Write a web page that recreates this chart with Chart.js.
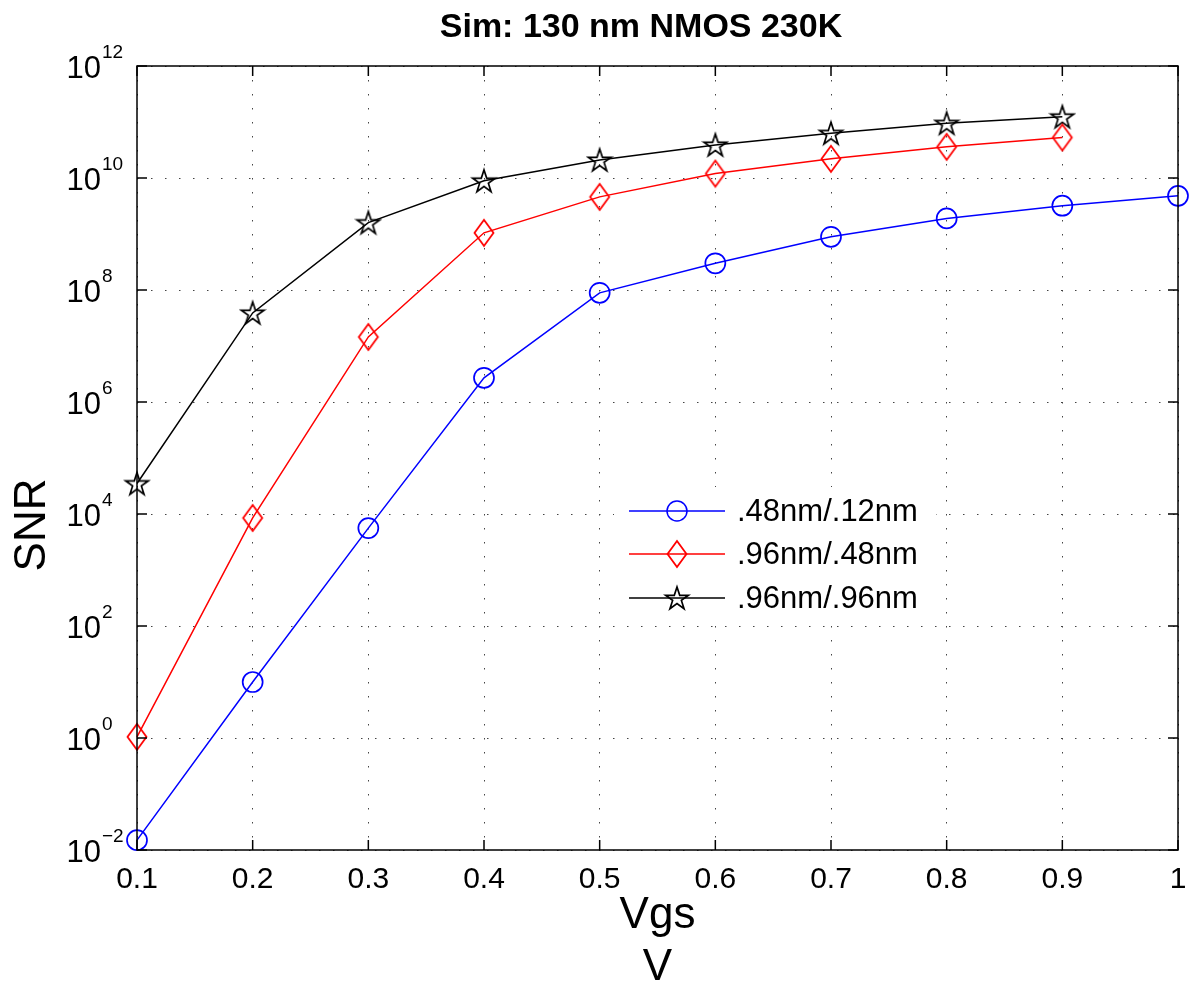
<!DOCTYPE html>
<html>
<head>
  <title>Sim: 130 nm NMOS 230K</title>
  <script src="https://cdn.jsdelivr.net/npm/chart.js"></script>
  <style>
    body { margin: 0; background: #fff; }
    #wrap { width: 1199px; height: 994px; }
  </style>
</head>
<body>
  <div id="wrap"><canvas id="snrChart"></canvas></div>

  <script>
    // values (SNR vs Vgs, 130 nm NMOS at 230K)
    const vgs = [0.1, 0.2, 0.3, 0.4, 0.5, 0.6, 0.7, 0.8, 0.9, 1.0];
    const snr48_12 = [0.015, 10, 5.6e3, 2.7e6, 8.9e7, 3.0e8, 8.9e8, 1.9e9, 3.2e9, 4.8e9];
    const snr96_48 = [1.05, 8.5e3, 1.45e7, 1.05e9, 4.6e9, 1.2e10, 2.2e10, 3.6e10, 5.3e10];
    const snr96_96 = [3.5e4, 3.9e7, 1.6e9, 8.9e9, 2.1e10, 3.9e10, 6.3e10, 9.5e10, 1.24e11];
    const seriesNames = ['.48nm/.12nm', '.96nm/.48nm', '.96nm/.96nm'];
    const xTicks = [0.1, 0.2, 0.3, 0.4, 0.5, 0.6, 0.7, 0.8, 0.9, 1];
    const yTicks = [1e-2, 1e0, 1e2, 1e4, 1e6, 1e8, 1e10, 1e12];

    const FONT = '"Liberation Sans", Arial, Helvetica, sans-serif';
    Chart.defaults.color = '#000';
    Chart.defaults.font.family = FONT;

    // hollow marker images like the matlab ones
    function diamondMarker(color) {
      const c = document.createElement('canvas');
      c.width = 24; c.height = 30;
      const g = c.getContext('2d');
      g.strokeStyle = color; g.lineWidth = 1.8;
      g.beginPath();
      g.moveTo(12, 2); g.lineTo(21.5, 15); g.lineTo(12, 28); g.lineTo(2.5, 15);
      g.closePath(); g.stroke();
      return c;
    }
    function starMarker(color) {
      const c = document.createElement('canvas');
      c.width = 28; c.height = 28;
      const g = c.getContext('2d');
      g.strokeStyle = color; g.lineWidth = 1.7;
      g.beginPath();
      for (let i = 0; i < 10; i++) {
        const r = i % 2 ? 4.6 : 12;
        const a = -Math.PI / 2 + i * Math.PI / 5;
        const px = 14 + r * Math.cos(a), py = 15 + r * Math.sin(a);
        i ? g.lineTo(px, py) : g.moveTo(px, py);
      }
      g.closePath(); g.stroke();
      return c;
    }
    const redDiamond = diamondMarker('#ff0000');
    const blackStar = starMarker('#000000');

    const toPoints = arr => arr.map((v, i) => ({ x: vgs[i], y: v }));

    function expText(n) {
      return (n < 0 ? '\u2212' : '') + Math.abs(n);
    }

    const decorations = {
      id: 'decorations',
      afterDraw(chart) {
        const { ctx, chartArea: a, scales: { x, y } } = chart;
        ctx.save();

        // box + inward ticks on all four sides
        ctx.strokeStyle = '#000';
        ctx.lineWidth = 1.5;
        ctx.strokeRect(a.left, a.top, a.right - a.left, a.bottom - a.top);
        ctx.beginPath();
        xTicks.forEach(v => {
          const px = x.getPixelForValue(v);
          ctx.moveTo(px, a.bottom); ctx.lineTo(px, a.bottom - 10);
          ctx.moveTo(px, a.top); ctx.lineTo(px, a.top + 10);
        });
        yTicks.forEach(v => {
          const py = y.getPixelForValue(v);
          ctx.moveTo(a.left, py); ctx.lineTo(a.left + 10, py);
          ctx.moveTo(a.right, py); ctx.lineTo(a.right - 10, py);
        });
        ctx.stroke();

        // y tick labels as 10^n
        ctx.fillStyle = '#000';
        yTicks.forEach(v => {
          const py = y.getPixelForValue(v);
          const e = Math.round(Math.log10(v));
          ctx.font = '31px ' + FONT;
          ctx.textAlign = 'right';
          ctx.textBaseline = 'alphabetic';
          ctx.fillText('10', 101, py + 12);
          ctx.font = '19px ' + FONT;
          ctx.textAlign = 'left';
          ctx.fillText(expText(e), 102, py - 8);
        });

        // title
        ctx.font = 'bold 34px ' + FONT;
        ctx.textAlign = 'center';
        ctx.textBaseline = 'middle';
        ctx.fillText('Sim: 130 nm NMOS 230K', 641, 28);

        // y axis title
        ctx.save();
        ctx.translate(33, 525);
        ctx.rotate(-Math.PI / 2);
        ctx.font = '44px ' + FONT;
        ctx.fillText('SNR', 0, 0);
        ctx.restore();

        // legend (white box, no border)
        ctx.fillStyle = '#fff';
        ctx.fillRect(614, 487, 322, 134);
        const rows = [511, 554, 598];
        const colors = ['#0000ff', '#ff0000', '#000000'];
        rows.forEach((ry, i) => {
          ctx.strokeStyle = colors[i];
          ctx.lineWidth = 1.5;
          ctx.beginPath();
          ctx.moveTo(629, ry); ctx.lineTo(725, ry);
          ctx.stroke();
          if (i === 0) {
            ctx.beginPath();
            ctx.arc(677, ry, 10, 0, Math.PI * 2);
            ctx.stroke();
          } else {
            const img = i === 1 ? redDiamond : blackStar;
            ctx.drawImage(img, 677 - img.width / 2, ry - img.height / 2);
          }
          ctx.fillStyle = '#000';
          ctx.font = '31px ' + FONT;
          ctx.textAlign = 'left';
          ctx.textBaseline = 'middle';
          ctx.fillText(seriesNames[i], 737, ry + 1);
        });

        ctx.restore();
      }
    };

    const ctx = document.getElementById('snrChart').getContext('2d');
    new Chart(ctx, {
      type: 'line',
      data: {
        datasets: [
          {
            label: seriesNames[0],
            data: toPoints(snr48_12),
            borderColor: '#0000ff',
            borderWidth: 1.5,
            pointStyle: 'circle',
            pointRadius: 10,
            pointBorderWidth: 1.7,
            pointBorderColor: '#0000ff',
            pointBackgroundColor: 'rgba(0,0,0,0)',
            clip: false
          },
          {
            label: seriesNames[1],
            data: toPoints(snr96_48),
            borderColor: '#ff0000',
            borderWidth: 1.5,
            pointStyle: redDiamond,
            clip: false
          },
          {
            label: seriesNames[2],
            data: toPoints(snr96_96),
            borderColor: '#000000',
            borderWidth: 1.5,
            pointStyle: blackStar,
            clip: false
          }
        ]
      },
      options: {
        responsive: true,
        maintainAspectRatio: false,
        animation: false,
        layout: { padding: { top: 66, right: 21, left: 0, bottom: 0 } },
        plugins: {
          legend: { display: false },
          title: { display: false },
          tooltip: { enabled: false }
        },
        scales: {
          x: {
            type: 'linear',
            min: 0.1,
            max: 1,
            afterBuildTicks: s => { s.ticks = xTicks.map(v => ({ value: v })); },
            afterFit: s => { s.height = 144; },
            ticks: {
              font: { size: 30 },
              padding: 12,
              maxRotation: 0,
              callback: v => String(Math.round(v * 10) / 10)
            },
            grid: { color: '#444', lineWidth: 1, drawTicks: false },
            border: { display: false, dash: [1.5, 12.5] },
            title: {
              display: true,
              text: ['Vgs', 'V'],
              font: { size: 44, lineHeight: 1.18 },
              padding: { top: 0, bottom: 0 }
            }
          },
          y: {
            type: 'logarithmic',
            min: 1e-2,
            max: 1e12,
            afterBuildTicks: s => { s.ticks = yTicks.map(v => ({ value: v })); },
            afterFit: s => { s.width = 137; },
            ticks: { display: false },
            grid: { color: '#444', lineWidth: 1, drawTicks: false },
            border: { display: false, dash: [1.5, 12.5] }
          }
        }
      },
      plugins: [decorations]
    });
  </script>
</body>
</html>
